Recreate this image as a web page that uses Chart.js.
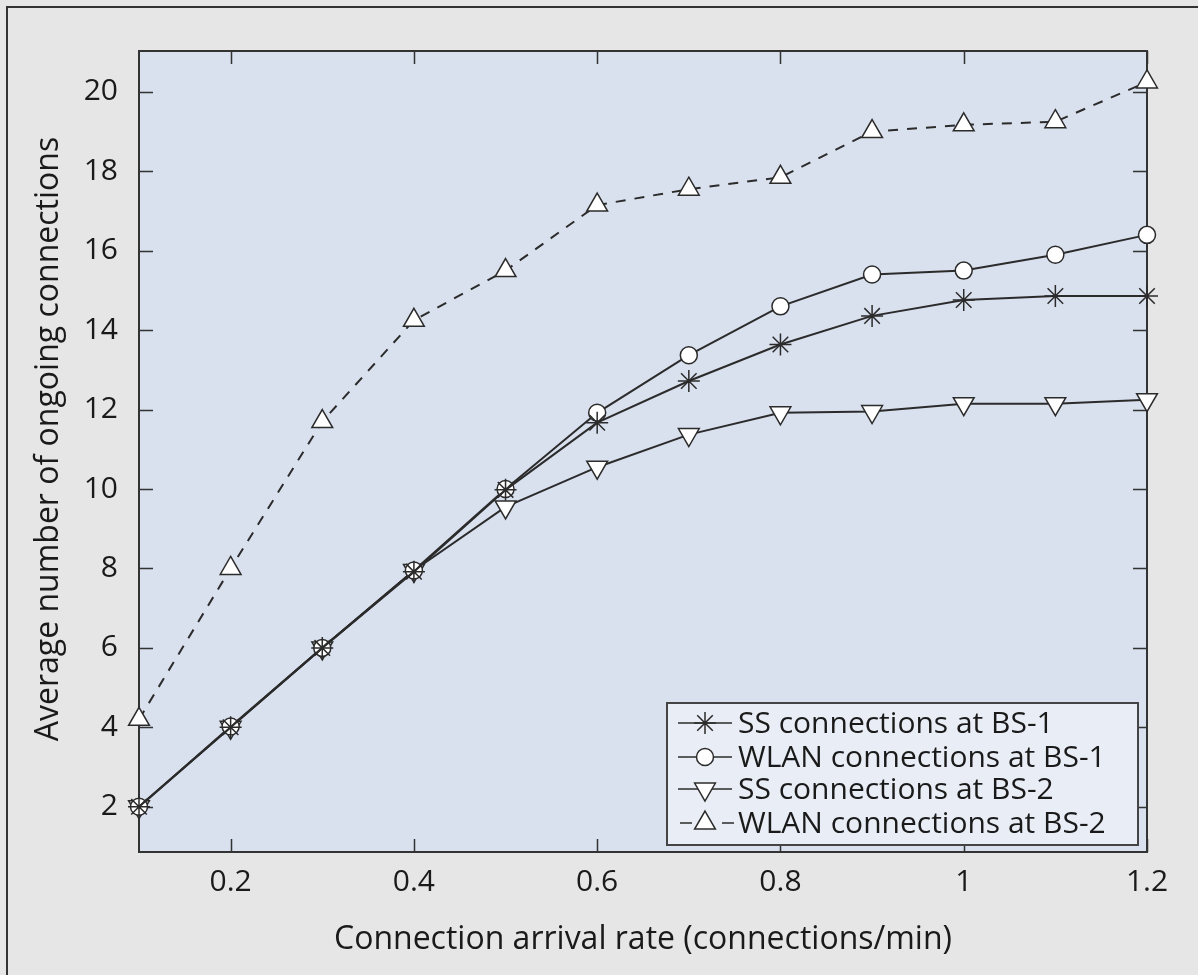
<!DOCTYPE html>
<html>
<head>
<meta charset="utf-8">
<script src="https://cdn.jsdelivr.net/npm/chart.js@4.4.0/dist/chart.umd.min.js"></script>
<style>
  html,body{margin:0;padding:0;background:#e6e6e6;}
  #wrap{width:1198px;height:975px;}
</style>
</head>
<body>
<div id="wrap"><canvas id="chart" width="1198" height="975"></canvas></div>
<script>
// values
const rates=[0.1,0.2,0.3,0.4,0.5,0.6,0.7,0.8,0.9,1.0,1.1,1.2];
const ssBs1=[2.0,4.0,6.0,7.92,9.98,11.67,12.72,13.64,14.36,14.76,14.86,14.86];
const wlanBs1=[2.0,4.02,6.0,7.95,10.0,11.92,13.37,14.6,15.4,15.5,15.9,16.4];
const ssBs2=[2.0,4.0,6.0,7.95,9.55,10.55,11.37,11.92,11.95,12.15,12.15,12.25];
const wlanBs2=[4.2,8.0,11.7,14.25,15.5,17.15,17.55,17.85,19.0,19.17,19.25,20.25];
const xTicks=[0.2,0.4,0.6,0.8,1,1.2];
const yTicks=[2,4,6,8,10,12,14,16,18,20];
const seriesNames=["SS connections at BS-1","WLAN connections at BS-1","SS connections at BS-2","WLAN connections at BS-2"];

const FONT="'Open Sans', 'Noto Sans', sans-serif";
const INK="#2b2b2b";

function pts(ys){ return rates.map((x,i)=>({x:x,y:ys[i]})); }

function series(label,ys,style,radius,rotation,dash){
  return {
    label:label, data:pts(ys),
    borderColor:INK, borderWidth:2, borderDash:dash||[],
    pointStyle:style, pointRadius:radius, pointRotation:rotation||0,
    pointBackgroundColor:style==="star"?INK:"#ffffff", pointBorderColor:INK, pointBorderWidth:1.5,
    tension:0, clip:false
  };
}

const datasets=[
  series(seriesNames[0],ssBs1,"star",11),
  series(seriesNames[1],wlanBs1,"circle",8.5),
  series(seriesNames[2],ssBs2,"triangle",12,180),
  series(seriesNames[3],wlanBs2,"triangle",12,0,[10,9])
];

const framePlugin={
  id:"frame",
  beforeDraw(chart){
    const {ctx,chartArea:a}=chart;
    ctx.save();
    ctx.fillStyle="#e6e6e6";
    ctx.fillRect(0,0,chart.width,chart.height);
    ctx.strokeStyle="#333";
    ctx.lineWidth=2;
    ctx.beginPath();
    ctx.moveTo(7,chart.height); ctx.lineTo(7,7); ctx.lineTo(chart.width,7);
    ctx.stroke();
    ctx.fillStyle="#d9e0ee";
    ctx.fillRect(a.left,a.top,a.right-a.left,a.bottom-a.top);
    ctx.restore();
  },
  beforeDatasetsDraw(chart){
    const {ctx,chartArea:a,scales}=chart;
    ctx.save();
    ctx.strokeStyle="#333";
    ctx.lineWidth=2;
    ctx.strokeRect(a.left,a.top,a.right-a.left,a.bottom-a.top);
    ctx.beginPath();
    xTicks.forEach(v=>{
      const x=Math.round(scales.x.getPixelForValue(v))+0.5;
      ctx.moveTo(x,a.bottom); ctx.lineTo(x,a.bottom-13);
      ctx.moveTo(x,a.top); ctx.lineTo(x,a.top+13);
    });
    yTicks.forEach(v=>{
      const y=Math.round(scales.y.getPixelForValue(v))+0.5;
      ctx.moveTo(a.left,y); ctx.lineTo(a.left+14,y);
      ctx.moveTo(a.right,y); ctx.lineTo(a.right-14,y);
    });
    ctx.lineWidth=1.5;
    ctx.stroke();
    ctx.restore();
  }
};

const legendPlugin={
  id:"boxLegend",
  afterDraw(chart){
    const ctx=chart.ctx;
    const bx=667,by=703,bw=471,bh=142;
    ctx.save();
    ctx.fillStyle="#e9eef6";
    ctx.fillRect(bx,by,bw,bh);
    ctx.strokeStyle="#444";
    ctx.lineWidth=2;
    ctx.strokeRect(bx,by,bw,bh);
    const rows=[723,757,789,823];
    chart.data.datasets.forEach((ds,i)=>{
      const y=rows[i];
      ctx.strokeStyle=INK;
      ctx.lineWidth=1.5;
      ctx.beginPath();
      if(ds.borderDash.length){
        ctx.moveTo(680,y); ctx.lineTo(692,y);
        ctx.moveTo(722,y); ctx.lineTo(734,y);
      }else{
        ctx.moveTo(678,y); ctx.lineTo(732,y);
      }
      ctx.stroke();
      ctx.fillStyle=ds.pointBackgroundColor;
      ctx.lineWidth=1.5;
      Chart.helpers.drawPoint(ctx,{pointStyle:ds.pointStyle,radius:ds.pointRadius,rotation:ds.pointRotation,borderWidth:1.5},705,y);
      ctx.fillStyle="#1a1a1a";
      ctx.font="30px "+FONT;
      ctx.textBaseline="middle";
      ctx.textAlign="left";
      ctx.fillText(ds.label,738,y+1);
    });
    ctx.restore();
  }
};

new Chart(document.getElementById("chart"),{
  type:"line",
  data:{datasets:datasets},
  plugins:[framePlugin,legendPlugin],
  options:{
    responsive:false, animation:false, devicePixelRatio:1,
    layout:{padding:{top:51,right:51,left:0,bottom:0}},
    plugins:{legend:{display:false},tooltip:{enabled:false}},
    scales:{
      x:{
        type:"linear", min:0.1, max:1.2,
        afterFit(s){ s.height=123; },
        grid:{display:false,drawTicks:false},
        border:{display:false},
        ticks:{stepSize:0.2,includeBounds:false,padding:12,color:"#1a1a1a",font:{family:FONT,size:30},
          callback:v=>String(+v.toFixed(1))},
        title:{display:true,text:"Connection arrival rate (connections/min)",color:"#1a1a1a",
          font:{family:FONT,size:32},padding:{top:0,bottom:16}}
      },
      y:{
        type:"linear", min:0.86, max:21.03,
        afterFit(s){ s.width=139; },
        grid:{display:false,drawTicks:false},
        border:{display:false},
        ticks:{stepSize:2,includeBounds:false,padding:21,color:"#1a1a1a",font:{family:FONT,size:30},
          callback:v=>String(v)},
        title:{display:true,text:"\u00a0\u00a0\u00a0Average number of ongoing connections",color:"#1a1a1a",
          font:{family:FONT,size:32},padding:{top:30,bottom:0}}
      }
    }
  }
});
</script>
</body>
</html>
